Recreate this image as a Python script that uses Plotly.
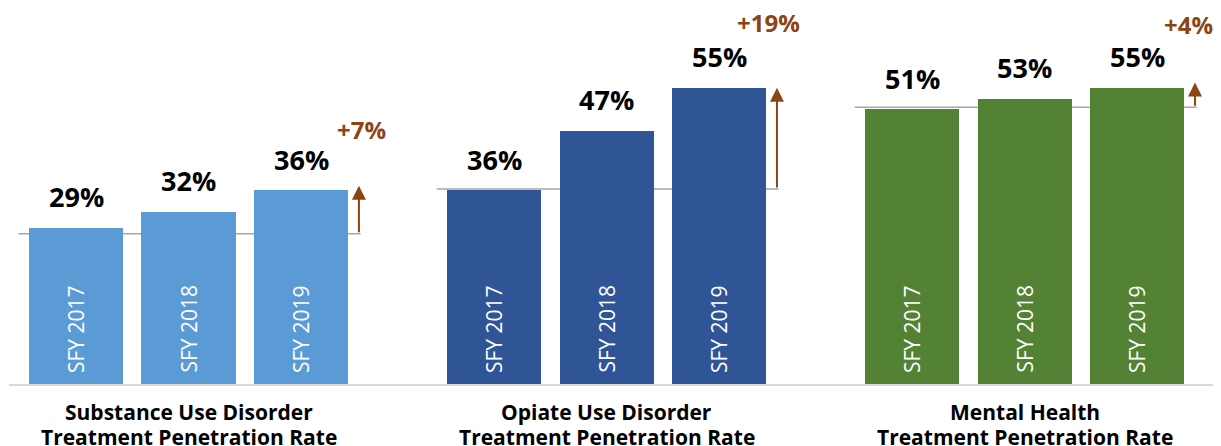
import plotly.graph_objects as go

# ---- data ----
groups = ["Substance Use Disorder<br>Treatment Penetration Rate",
          "Opiate Use Disorder<br>Treatment Penetration Rate",
          "Mental Health<br>Treatment Penetration Rate"]
years = ["SFY 2017", "SFY 2018", "SFY 2019"]
sud_values = [29, 32, 36]
oud_values = [36, 47, 55]
mh_values = [51, 53, 55]
changes = ["+7%", "+19%", "+4%"]
ref_levels = [27.9, 36.2, 51.4]
arrow_tips = [36.8, 55, 56]

# ---- styling / layout ----
colors = ["#5B9BD5", "#2F5597", "#548235"]
arrow_color = "#8B4513"
FONT = "Open Sans"
GROUP_STEP = 3.716
BAR_W = 0.836
delta_label_pos = [(2.54, 47.2), (2.44, 67.1), (2.46, 66.8)]

series = [sud_values, oud_values, mh_values]

fig = go.Figure()
annotations = []
shapes = []

for g, vals in enumerate(series):
    x0 = g * GROUP_STEP
    xs = [x0 + i for i in range(len(vals))]
    fig.add_trace(go.Bar(x=xs, y=vals, width=BAR_W, marker_color=colors[g],
                         marker_line_width=0, showlegend=False, hoverinfo="skip"))
    for i, v in enumerate(vals):
        annotations.append(dict(x=xs[i], y=v, text=f"<b>{v}%</b>", showarrow=False,
                                xanchor="center", yanchor="middle", yshift=31,
                                font=dict(family=FONT, size=27, color="#000000")))
        annotations.append(dict(x=xs[i], y=0, text=years[i], showarrow=False,
                                textangle=-90, xanchor="center", yanchor="bottom", yshift=9,
                                font=dict(family=FONT, size=21, color="#FFFFFF")))
    # reference line
    shapes.append(dict(type="line", xref="x", yref="y", x0=x0 - 0.51, x1=x0 + 2.53,
                       y0=ref_levels[g], y1=ref_levels[g],
                       line=dict(color="#A6A6A6", width=1.5), layer="below"))
    # arrow
    ax = x0 + 2.515
    annotations.append(dict(x=ax, y=arrow_tips[g], ax=ax, ay=ref_levels[g],
                            xref="x", yref="y", axref="x", ayref="y", text="",
                            showarrow=True, arrowhead=2, arrowsize=1.4, arrowwidth=2,
                            arrowcolor=arrow_color, standoff=0, startstandoff=0))
    dx, dy = delta_label_pos[g]
    annotations.append(dict(x=x0 + dx, y=dy, text=f"<b>{changes[g]}</b>", showarrow=False,
                            xanchor="center", yanchor="middle",
                            font=dict(family=FONT, size=24, color=arrow_color)))
    # group label (two lines)
    lines = groups[g].split("<br>")
    for k, line in enumerate(lines):
        annotations.append(dict(x=x0 + 1, y=0, xref="x", yref="y", text=f"<b>{line}</b>",
                                showarrow=False, xanchor="center", yanchor="middle",
                                yshift=-28 - 25 * k,
                                font=dict(family=FONT, size=21, color="#000000")))

# the page places the figure 8px in from the top-left corner, so the figure
# is 8px smaller than the window and its plot area is shifted accordingly
fig.update_layout(
    width=1213, height=438,
    margin=dict(l=1, r=0, t=0, b=62),
    paper_bgcolor="#FFFFFF", plot_bgcolor="#FFFFFF",
    bargap=0,
    xaxis=dict(range=[-0.5956, 10.178], showgrid=False, zeroline=False, showticklabels=False,
               ticks="", showline=True, linecolor="#D9D9D9", linewidth=1.5, fixedrange=True),
    yaxis=dict(range=[0, 69.82], showgrid=False, zeroline=False, showticklabels=False,
               ticks="", showline=False, fixedrange=True),
    annotations=annotations,
    shapes=shapes,
)

fig.write_html("out.html")
